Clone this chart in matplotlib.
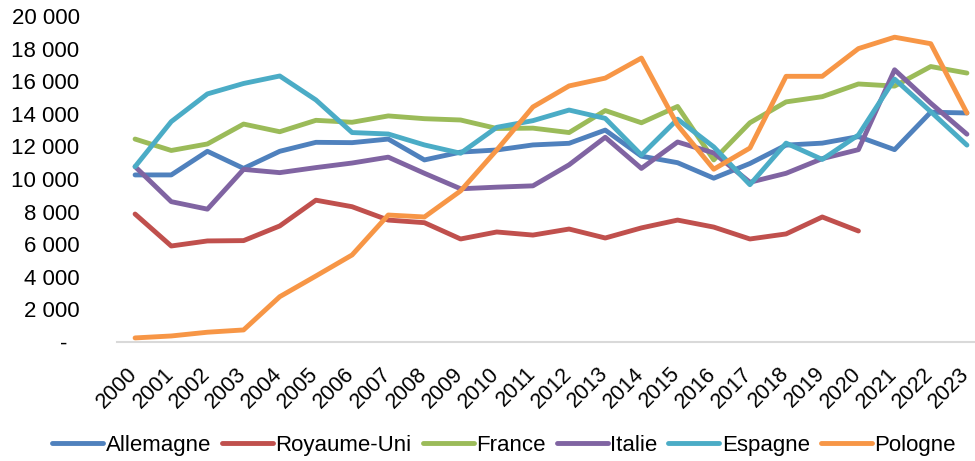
import matplotlib
matplotlib.use("Agg")
import matplotlib.pyplot as plt
from matplotlib.ticker import FuncFormatter
from matplotlib.transforms import ScaledTranslation
import numpy as np

years = [str(y) for y in range(2000, 2024)]

allemagne = [10250, 10250, 11700, 10650, 11700, 12250, 12230, 12450, 11170, 11650,
             11780, 12090, 12190, 13000, 11400, 11000, 10050, 10950, 12080, 12200,
             12600, 11800, 14100, 14050]
royaume_uni = [7850, 5890, 6200, 6220, 7120, 8700, 8300, 7480, 7320, 6320,
               6750, 6560, 6930, 6380, 7000, 7480, 7050, 6320, 6630, 7670,
               6810, None, None, None]
france = [12450, 11750, 12150, 13370, 12900, 13600, 13480, 13870, 13700, 13620,
          13100, 13120, 12850, 14200, 13450, 14450, 11170, 13450, 14730, 15050,
          15830, 15700, 16900, 16500]
italie = [10760, 8610, 8150, 10590, 10390, 10700, 10980, 11340, 10350, 9400,
          9500, 9580, 10870, 12560, 10650, 12270, 11600, 9800, 10350, 11250,
          11800, 16700, 14650, 12750]
espagne = [10760, 13520, 15220, 15860, 16320, 14850, 12850, 12760, 12090, 11580,
           13170, 13580, 14230, 13720, 11470, 13670, 11970, 9650, 12200, 11200,
           12700, 16130, 14130, 12080]
pologne = [250, 370, 600, 740, 2780, 4050, 5340, 7790, 7670, 9270,
           11780, 14420, 15710, 16190, 17420, 13300, 10600, 11900, 16300, 16300,
           18000, 18700, 18300, 14050]

series = [
    ("Allemagne", allemagne, "#4F81BD"),
    ("Royaume-Uni", royaume_uni, "#C0504D"),
    ("France", france, "#9BBB59"),
    ("Italie", italie, "#8064A2"),
    ("Espagne", espagne, "#4BACC6"),
    ("Pologne", pologne, "#F79646"),
]

plt.rcParams['font.family'] = ['Liberation Sans', 'DejaVu Sans']

fig = plt.figure(figsize=(9.75, 4.61), dpi=100)
ax = fig.add_axes([117/975, 1 - 342/461, 868/975, 326/461])

x = np.arange(len(years))
for name, vals, col in series:
    v = np.array([np.nan if a is None else a for a in vals], dtype=float)
    ax.plot(x, v, color=col, lw=3.5, label=name,
            solid_joinstyle='round', solid_capstyle='round')

ax.set_xlim(-0.5, len(years) - 0.5)
ax.set_ylim(0, 20000)
ax.set_yticks(np.arange(0, 20001, 2000))

def fmt(v, pos):
    if v == 0:
        return "-"
    return f"{int(v):,}".replace(",", " ")

ax.yaxis.set_major_formatter(FuncFormatter(fmt))
ax.set_xticks(x)
ax.set_xticklabels(years, rotation=45, ha='right', va='top', rotation_mode='anchor')

for s in ['top', 'right', 'left']:
    ax.spines[s].set_visible(False)
ax.spines['bottom'].set_color('#D9D9D9')
ax.spines['bottom'].set_linewidth(1.5)
ax.tick_params(axis='y', length=0, pad=27, labelsize=16)
ax.tick_params(axis='x', length=0, pad=6, labelsize=15.5)

offset = ScaledTranslation(-8/100, -13/100, fig.dpi_scale_trans)
for lab in ax.get_xticklabels():
    lab.set_transform(lab.get_transform() + offset)

fig.canvas.draw()
zero_off = ScaledTranslation(-12/100, 0, fig.dpi_scale_trans)
ylabs = ax.get_yticklabels()
ylabs[0].set_transform(ylabs[0].get_transform() + zero_off)

fig.legend(loc='center', bbox_to_anchor=(504/975, 1 - 445/461), ncol=6,
           frameon=False, fontsize=16, handlelength=2.3, handletextpad=0.1,
           columnspacing=0.5)

fig.savefig("out.png", dpi=100)
